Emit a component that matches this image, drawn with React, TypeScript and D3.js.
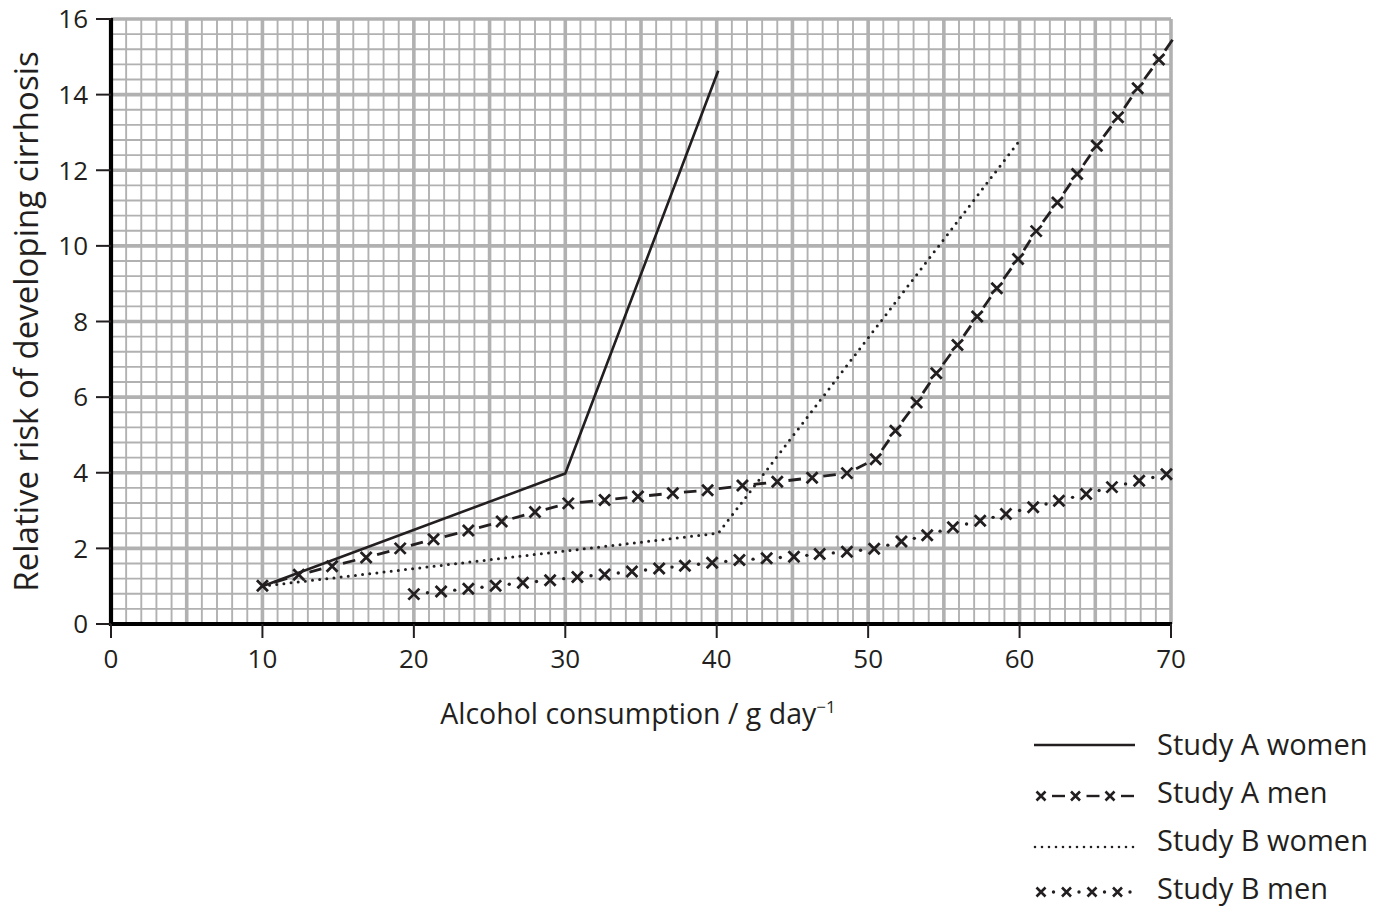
import React, { useEffect, useRef } from 'react';
import * as d3 from 'd3';

// axis ticks
const xTicks = [0, 10, 20, 30, 40, 50, 60, 70];
const yTicks = [0, 2, 4, 6, 8, 10, 12, 14, 16];

// Study A women (solid)
const aWomenX = [10, 30, 40.1];
const aWomenY = [1.0, 3.98, 14.63];

// Study B women (dotted)
const bWomenX = [10, 40.1, 59.9];
const bWomenY = [1.0, 2.4, 12.73];

// Study A men (crosses joined by dashes)
const aMenX = [10.0, 12.4, 14.6, 16.85, 19.1, 21.3, 23.6, 25.8, 28.0, 30.2, 32.6, 34.8, 37.1, 39.4,
  41.7, 44.0, 46.3, 48.6, 50.5, 51.8, 53.2, 54.5, 55.9, 57.2, 58.5, 59.9, 61.1, 62.5, 63.8, 65.1,
  66.5, 67.8, 69.2];
const aMenY = [1.01, 1.3, 1.53, 1.76, 2.0, 2.24, 2.47, 2.71, 2.96, 3.19, 3.28, 3.37, 3.46, 3.54,
  3.66, 3.76, 3.87, 3.99, 4.36, 5.11, 5.86, 6.63, 7.38, 8.13, 8.88, 9.65, 10.39, 11.15, 11.9, 12.65,
  13.4, 14.17, 14.93];
const aMenEnd = [70.1, 15.45];

// Study B men (crosses joined by dots)
const bMenX = [20.0, 21.8, 23.6, 25.4, 27.2, 29.0, 30.8, 32.6, 34.4, 36.2, 37.9, 39.7, 41.5, 43.3,
  45.1, 46.8, 48.6, 50.4, 52.2, 53.9, 55.6, 57.4, 59.1, 60.9, 62.6, 64.4, 66.1, 67.9, 69.7];
const bMenY = [0.79, 0.86, 0.93, 1.01, 1.09, 1.16, 1.24, 1.31, 1.39, 1.47, 1.54, 1.62, 1.69, 1.74,
  1.78, 1.85, 1.91, 1.99, 2.18, 2.35, 2.56, 2.73, 2.91, 3.09, 3.26, 3.44, 3.62, 3.79, 3.96];

const legendLabels = ['Study A women', 'Study A men', 'Study B women', 'Study B men'];

const INK = '#231f20';
const GRID = '#b1b1b1';
const FONT = '"Open Sans", "Noto Sans", sans-serif';

const App = () => {
  const ref = useRef<SVGSVGElement>(null);

  useEffect(() => {
    const svg = d3.select(ref.current);
    svg.selectAll('*').remove();

    const x = d3.scaleLinear().domain([0, 70]).range([111, 1171]);
    const y = d3.scaleLinear().domain([0, 16]).range([624, 19]);

    // graph paper
    const grid = svg.append('g');
    d3.range(0, 71, 1).forEach((v) => {
      grid.append('line')
        .attr('x1', x(v)).attr('x2', x(v)).attr('y1', y(0)).attr('y2', y(16))
        .attr('stroke', GRID).attr('stroke-width', v % 5 === 0 ? 3.6 : 1.9);
    });
    d3.range(0, 41, 1).forEach((i) => {
      const v = i * 0.4;
      grid.append('line')
        .attr('x1', x(0)).attr('x2', x(70)).attr('y1', y(v)).attr('y2', y(v))
        .attr('stroke', GRID).attr('stroke-width', i % 5 === 0 ? 3.6 : 1.9);
    });

    // axes
    const axes = svg.append('g').attr('stroke', '#000');
    axes.append('line').attr('x1', x(0)).attr('x2', x(0)).attr('y1', y(16) - 1).attr('y2', y(0) + 2)
      .attr('stroke-width', 4.2);
    axes.append('line').attr('x1', x(0) - 2).attr('x2', x(70) + 1).attr('y1', y(0)).attr('y2', y(0))
      .attr('stroke-width', 4.2);

    yTicks.forEach((t) => {
      axes.append('line').attr('x1', x(0) - 15).attr('x2', x(0)).attr('y1', y(t)).attr('y2', y(t))
        .attr('stroke-width', 2).attr('stroke', INK);
      svg.append('text').attr('x', x(0) - 23).attr('y', y(t)).attr('dy', '0.36em')
        .attr('text-anchor', 'end').attr('font-family', FONT).attr('font-size', 26).attr('fill', INK)
        .text(t);
    });
    xTicks.forEach((t) => {
      axes.append('line').attr('x1', x(t)).attr('x2', x(t)).attr('y1', y(0)).attr('y2', y(0) + 14)
        .attr('stroke-width', 2).attr('stroke', INK);
      svg.append('text').attr('x', x(t)).attr('y', y(0) + 44)
        .attr('text-anchor', 'middle').attr('font-family', FONT).attr('font-size', 26).attr('fill', INK)
        .text(t);
    });

    // axis titles
    const xt = svg.append('text').attr('x', 638).attr('y', 724).attr('text-anchor', 'middle')
      .attr('font-family', FONT).attr('font-size', 28.5).attr('fill', INK);
    xt.append('tspan').text('Alcohol consumption / g day');
    xt.append('tspan').attr('dy', -11).attr('font-size', 17).text('\u22121');

    svg.append('text').attr('transform', `translate(38,${(y(0) + y(16)) / 2}) rotate(-90)`)
      .attr('text-anchor', 'middle').attr('font-family', FONT).attr('font-size', 33).attr('fill', INK)
      .text('Relative risk of developing cirrhosis');

    const line = d3.line<number[]>().x((d) => x(d[0])).y((d) => y(d[1]));

    // Study A women
    svg.append('path').datum(aWomenX.map((v, i) => [v, aWomenY[i]]))
      .attr('d', line).attr('fill', 'none').attr('stroke', INK).attr('stroke-width', 2.6)
      .attr('stroke-linejoin', 'round');

    // Study B women
    svg.append('path').datum(bWomenX.map((v, i) => [v, bWomenY[i]]))
      .attr('d', line).attr('fill', 'none').attr('stroke', INK).attr('stroke-width', 3)
      .attr('stroke-linecap', 'round').attr('stroke-dasharray', '0 7.2');

    const cross = (g: any, cx: number, cy: number, r: number, w: number) => {
      g.append('path')
        .attr('d', `M${cx - r},${cy - r}L${cx + r},${cy + r}M${cx - r},${cy + r}L${cx + r},${cy - r}`)
        .attr('stroke', INK).attr('stroke-width', w).attr('fill', 'none');
    };

    // Study A men
    const aMen = aMenX.map((v, i) => [v, aMenY[i]]).concat([aMenEnd]);
    const am = svg.append('g');
    for (let i = 0; i < aMen.length - 1; i++) {
      const [x0, y0] = [x(aMen[i][0]), y(aMen[i][1])];
      const [x1, y1] = [x(aMen[i + 1][0]), y(aMen[i + 1][1])];
      const last = i === aMen.length - 2;
      const f0 = last ? 0.45 : 0.32;
      const f1 = last ? 1 : 0.68;
      am.append('line')
        .attr('x1', x0 + (x1 - x0) * f0).attr('y1', y0 + (y1 - y0) * f0)
        .attr('x2', x0 + (x1 - x0) * f1).attr('y2', y0 + (y1 - y0) * f1)
        .attr('stroke', INK).attr('stroke-width', 2.8);
    }
    aMenX.forEach((v, i) => cross(am, x(v), y(aMenY[i]), 5.5, 2.8));

    // Study B men
    const bm = svg.append('g');
    for (let i = 0; i < bMenX.length - 1; i++) {
      const mx = (x(bMenX[i]) + x(bMenX[i + 1])) / 2;
      const my = (y(bMenY[i]) + y(bMenY[i + 1])) / 2;
      bm.append('circle').attr('cx', mx).attr('cy', my).attr('r', 1.7).attr('fill', INK);
    }
    bMenX.forEach((v, i) => cross(bm, x(v), y(bMenY[i]), 5.5, 2.8));

    // legend
    const lg = svg.append('g');
    const rowY = [745, 793, 841, 889];
    const lx0 = 1034;
    const lx1 = 1135;
    lg.append('line').attr('x1', lx0).attr('x2', lx1).attr('y1', rowY[0]).attr('y2', rowY[0])
      .attr('stroke', INK).attr('stroke-width', 2.4);
    [0, 1, 2].forEach((k) => {
      const cx = lx0 + 7 + k * 34.5;
      cross(lg, cx, rowY[1] + 3, 4.5, 2.6);
      lg.append('line').attr('x1', cx + 11).attr('x2', cx + 24).attr('y1', rowY[1] + 3).attr('y2', rowY[1] + 3)
        .attr('stroke', INK).attr('stroke-width', 2.4);
    });
    lg.append('line').attr('x1', lx0 + 1).attr('x2', lx1).attr('y1', rowY[2] + 6).attr('y2', rowY[2] + 6)
      .attr('stroke', INK).attr('stroke-width', 2.6).attr('stroke-linecap', 'round')
      .attr('stroke-dasharray', '0 7');
    [0, 1, 2, 3].forEach((k) => {
      const cx = lx0 + 7 + k * 25.5;
      cross(lg, cx, rowY[3] + 3, 4.5, 2.6);
      lg.append('circle').attr('cx', cx + 12.5).attr('cy', rowY[3] + 3).attr('r', 1.7).attr('fill', INK);
    });
    legendLabels.forEach((lab, i) => {
      lg.append('text').attr('x', 1157).attr('y', rowY[i]).attr('dy', '0.36em')
        .attr('font-family', FONT).attr('font-size', 29).attr('fill', INK).text(lab);
    });
  }, []);

  return (
    <svg ref={ref} width={1382} height={907}
      style={{ position: 'absolute', left: 0, top: 0, background: '#fff' }} />
  );
};

export default App;
